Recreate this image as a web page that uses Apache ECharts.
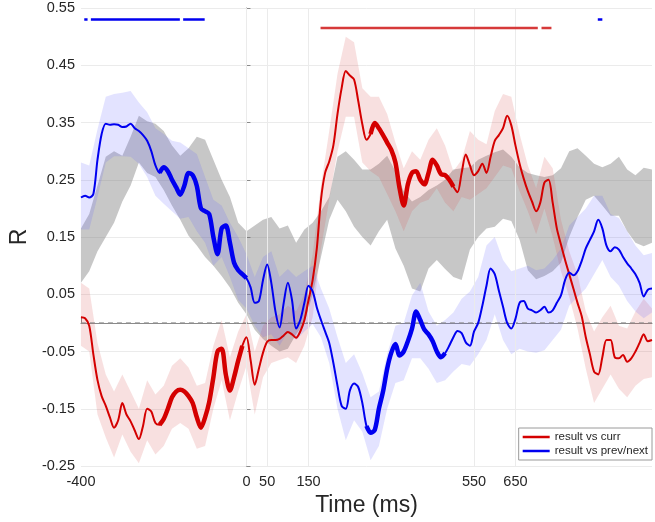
<!DOCTYPE html>
<html>
<head>
<meta charset="utf-8">
<script src="https://cdn.jsdelivr.net/npm/echarts@6/dist/echarts.min.js"></script>
<style>
  html, body { margin: 0; padding: 0; background: #fff; }
  #chart { width: 655px; height: 522px; }
</style>
</head>
<body>
<div id="chart"></div>
<script>
// sample times (ms): lines every 10 ms, bands every 20 ms
const tLine = [];
for (let t = -400; t <= 980; t += 10) tLine.push(t);
const tBand = [];
for (let t = -400; t <= 980; t += 20) tBand.push(t);

const xTicks = [-400, 0, 50, 150, 550, 650];
const xGrid = [0, 50, 150, 550, 650];

// mean correlation, result vs curr
const redMean = [
  0.010, 0.008, -0.005, -0.055, -0.100, -0.128, -0.145, -0.165, -0.183, -0.170,
  -0.140, -0.160, -0.172, -0.188, -0.203, -0.180, -0.150, -0.155, -0.175, -0.178,
  -0.168, -0.150, -0.130, -0.120, -0.117, -0.120, -0.128, -0.140, -0.165, -0.183,
  -0.165, -0.138, -0.095, -0.050, -0.045, -0.090, -0.118, -0.095, -0.066, -0.040,
  -0.025, -0.065, -0.108, -0.080, -0.052, -0.033, -0.030, -0.030, -0.028, -0.022,
  -0.016, -0.020, -0.026, -0.015, 0.005, 0.040, 0.075, 0.130, 0.215, 0.262,
  0.282, 0.310, 0.365, 0.410, 0.440, 0.432, 0.425, 0.388, 0.347, 0.320,
  0.330, 0.349, 0.340, 0.328, 0.315, 0.302, 0.280, 0.235, 0.205, 0.242,
  0.262, 0.265, 0.250, 0.242, 0.262, 0.285, 0.275, 0.260, 0.258, 0.250,
  0.238, 0.228, 0.262, 0.294, 0.275, 0.258, 0.265, 0.278, 0.262, 0.290,
  0.318, 0.328, 0.340, 0.362, 0.345, 0.310, 0.278, 0.252, 0.230, 0.212,
  0.195, 0.210, 0.245, 0.250, 0.210, 0.165, 0.137, 0.110, 0.085, 0.060,
  0.035, 0.012, -0.025, -0.055, -0.085, -0.090, -0.060, -0.030, -0.030, -0.060,
  -0.062, -0.056, -0.068, -0.062, -0.050, -0.035, -0.020, -0.032, -0.030
];

// mean correlation, result vs prev/next
const blueMean = [
  0.219, 0.222, 0.219, 0.225, 0.285, 0.330, 0.348, 0.346, 0.347, 0.346,
  0.342, 0.343, 0.348, 0.340, 0.335, 0.328, 0.318, 0.300, 0.275, 0.262,
  0.272, 0.265, 0.250, 0.237, 0.224, 0.240, 0.262, 0.258, 0.239, 0.200,
  0.195, 0.190, 0.150, 0.120, 0.165, 0.170, 0.140, 0.105, 0.092, 0.085,
  0.078, 0.062, 0.035, 0.038, 0.075, 0.102, 0.070, 0.020, -0.008, 0.035,
  0.070, 0.040, -0.010, 0.005, 0.035, 0.065, 0.055, 0.027, 0.005, -0.015,
  -0.035, -0.070, -0.110, -0.145, -0.150, -0.118, -0.106, -0.112, -0.140, -0.180,
  -0.192, -0.187, -0.150, -0.120, -0.080, -0.052, -0.037, -0.057, -0.050, -0.032,
  -0.010, 0.020, 0.005, -0.012, -0.020, -0.032, -0.050, -0.060, -0.053, -0.040,
  -0.025, -0.014, -0.018, -0.034, -0.040, -0.015, 0.000, 0.030, 0.065, 0.095,
  0.085, 0.056, 0.028, 0.000, -0.010, 0.007, 0.035, 0.038, 0.025, 0.022,
  0.018, 0.022, 0.028, 0.018, 0.022, 0.035, 0.048, 0.075, 0.088, 0.083,
  0.090, 0.108, 0.130, 0.145, 0.160, 0.180, 0.165, 0.135, 0.125, 0.132,
  0.128, 0.115, 0.104, 0.095, 0.085, 0.070, 0.046, 0.058, 0.060
];

// confidence bands (every 20 ms)
const redHi = [
  0.070, 0.060, -0.035, -0.090, -0.120, -0.090, -0.120, -0.150, -0.100, -0.125,
  -0.110, -0.075, -0.062, -0.078, -0.110, -0.105, -0.040, 0.005, -0.060, -0.015,
  0.015, -0.050, -0.005, 0.010, 0.015, 0.030, 0.020, 0.050, 0.120, 0.240,
  0.335, 0.435, 0.500, 0.490, 0.410, 0.395, 0.395, 0.365, 0.315, 0.270,
  0.300, 0.285, 0.320, 0.340, 0.310, 0.265, 0.285, 0.335, 0.320, 0.312,
  0.370, 0.400, 0.395, 0.330, 0.275, 0.235, 0.290, 0.270, 0.180, 0.125,
  0.085, 0.020, -0.015, 0.010, 0.030, -0.005, -0.010, 0.020, 0.042, 0.025
];
const redLo = [
  -0.040, -0.050, -0.160, -0.200, -0.235, -0.195, -0.225, -0.245, -0.205, -0.230,
  -0.215, -0.185, -0.175, -0.185, -0.220, -0.215, -0.150, -0.100, -0.170, -0.120,
  -0.075, -0.160, -0.095, -0.070, -0.065, -0.060, -0.070, -0.040, 0.010, 0.130,
  0.215, 0.300, 0.360, 0.360, 0.280, 0.265, 0.255, 0.225, 0.195, 0.160,
  0.195, 0.210, 0.215, 0.235, 0.210, 0.195, 0.220, 0.215, 0.225, 0.235,
  0.255, 0.275, 0.270, 0.230, 0.195, 0.155, 0.200, 0.150, 0.090, 0.045,
  -0.010, -0.080, -0.140, -0.115, -0.090, -0.115, -0.130, -0.110, -0.098, -0.095
];
const blueHi = [
  0.280, 0.275, 0.338, 0.395, 0.400, 0.402, 0.405, 0.385, 0.368, 0.340,
  0.330, 0.318, 0.315, 0.305, 0.295, 0.255, 0.215, 0.205, 0.175, 0.150,
  0.120, 0.080, 0.115, 0.125, 0.080, 0.094, 0.080, 0.090, 0.100, 0.060,
  0.025, -0.025, -0.070, -0.055, -0.088, -0.130, -0.120, -0.055, -0.005, 0.000,
  0.048, 0.070, 0.020, -0.005, 0.005, 0.018, 0.042, 0.055, 0.080, 0.135,
  0.150, 0.110, 0.090, 0.095, 0.100, 0.092, 0.095, 0.110, 0.130, 0.170,
  0.185, 0.200, 0.222, 0.222, 0.190, 0.183, 0.160, 0.135, 0.118, 0.122
];
const blueLo = [
  0.163, 0.163, 0.220, 0.280, 0.291, 0.291, 0.290, 0.278, 0.255, 0.222,
  0.208, 0.195, 0.182, 0.185, 0.160, 0.140, 0.100, 0.115, 0.080, 0.040,
  0.025, -0.005, -0.025, -0.020, -0.040, -0.015, -0.030, -0.015, -0.002, -0.025,
  -0.070, -0.150, -0.205, -0.170, -0.190, -0.240, -0.215, -0.150, -0.105, -0.100,
  -0.062, -0.062, -0.080, -0.105, -0.100, -0.085, -0.072, -0.075, -0.055, -0.030,
  0.015, -0.030, -0.055, -0.045, -0.050, -0.052, -0.048, -0.030, -0.012, 0.030,
  0.045, 0.060, 0.085, 0.110, 0.080, 0.065, 0.038, 0.020, 0.008, 0.018
];
// null distribution band
const grayHi = [
  0.165, 0.190, 0.240, 0.290, 0.300, 0.292, 0.325, 0.362, 0.352, 0.348,
  0.335, 0.310, 0.292, 0.305, 0.325, 0.320, 0.285, 0.250, 0.220, 0.175,
  0.160, 0.170, 0.180, 0.185, 0.165, 0.170, 0.140, 0.163, 0.175, 0.195,
  0.220, 0.290, 0.300, 0.285, 0.268, 0.268, 0.278, 0.292, 0.265, 0.230,
  0.212, 0.220, 0.232, 0.240, 0.250, 0.268, 0.270, 0.272, 0.285, 0.292,
  0.298, 0.303, 0.290, 0.272, 0.262, 0.258, 0.255, 0.258, 0.270, 0.300,
  0.305, 0.292, 0.278, 0.272, 0.278, 0.290, 0.268, 0.258, 0.271, 0.268
];
const grayLo = [
  0.070, 0.090, 0.125, 0.150, 0.175, 0.212, 0.240, 0.280, 0.262, 0.255,
  0.232, 0.205, 0.180, 0.152, 0.135, 0.115, 0.100, 0.082, 0.062, 0.035,
  0.015, -0.012, -0.028, -0.040, -0.050, -0.045, -0.020, 0.000, 0.050, 0.115,
  0.180, 0.215, 0.195, 0.168, 0.150, 0.135, 0.160, 0.180, 0.130, 0.100,
  0.060, 0.055, 0.095, 0.110, 0.094, 0.080, 0.075, 0.128, 0.150, 0.165,
  0.168, 0.182, 0.178, 0.145, 0.092, 0.076, 0.082, 0.090, 0.105, 0.150,
  0.185, 0.215, 0.222, 0.205, 0.187, 0.187, 0.160, 0.140, 0.134, 0.140
];

// stretches drawn with a heavier line
const redThick = [[-210, -10], [300, 500]];
const blueThick = [[-210, 0], [290, 480]];

// significance bars at the top (ms ranges)
const redSig = [[179, 704], [713, 737]];
const blueSig = [[-392, -384], [-376, -161], [-153, -101], [849, 860]];
const redSigY = 0.515;
const blueSigY = 0.53;

// dashed reference line at R = 0
const zeroLine = [[-400, 0], [980, 0]];

const RED = '#d40000';
const BLUE = '#0000f0';

function pairs(ts, vs) {
  return ts.map((t, i) => [t, vs[i]]);
}
function thickPart(ts, vs, ranges) {
  return ts.map((t, i) => [t, ranges.some(r => t >= r[0] && t <= r[1]) ? vs[i] : null]);
}
function sigBars(ranges, y) {
  const d = [];
  ranges.forEach(r => { d.push([r[0], y], [r[1], y], [r[1], null]); });
  return d;
}
function band(name, lo, hi, color, z) {
  return {
    type: 'custom',
    name: name,
    silent: true,
    z: z,
    clip: true,
    data: [[tBand[0], lo[0]]],
    renderItem: function (params, api) {
      const pts = [];
      for (let i = 0; i < tBand.length; i++) pts.push(api.coord([tBand[i], hi[i]]));
      for (let i = tBand.length - 1; i >= 0; i--) pts.push(api.coord([tBand[i], lo[i]]));
      return {
        type: 'polygon',
        shape: { points: pts },
        style: { fill: color }
      };
    }
  };
}

const chart = echarts.init(document.getElementById('chart'));
chart.setOption({
  animation: false,
  textStyle: { fontFamily: 'Liberation Sans, Arial, sans-serif' },
  grid: { left: 78, right: 3, top: 8, bottom: 55 },
  legend: {
    data: ['result vs curr', 'result vs prev/next'],
    orient: 'vertical',
    right: 3,
    bottom: 62,
    icon: 'rect',
    itemWidth: 27,
    itemHeight: 2.5,
    itemGap: 2,
    padding: [3, 4, 3, 4],
    backgroundColor: '#fff',
    borderColor: '#9a9a9a',
    borderWidth: 1,
    textStyle: { fontSize: 11.5, color: '#262626' }
  },
  xAxis: {
    type: 'value',
    min: -400,
    max: 980,
    name: 'Time (ms)',
    nameLocation: 'middle',
    nameGap: 28,
    nameTextStyle: { fontSize: 23, color: '#262626' },
    axisLine: { lineStyle: { color: '#8a8a8a' } },
    axisTick: { inside: true, length: 6, customValues: xTicks, lineStyle: { color: '#8a8a8a' } },
    axisLabel: { customValues: xTicks, fontSize: 14.5, color: '#262626', margin: 8 },
    splitLine: { show: false }
  },
  yAxis: {
    type: 'value',
    min: -0.25,
    max: 0.55,
    interval: 0.1,
    name: 'R',
    nameLocation: 'middle',
    nameGap: 46,
    nameTextStyle: { fontSize: 23, color: '#262626' },
    axisLine: { show: true, lineStyle: { color: '#8a8a8a' } },
    axisTick: { show: true, inside: true, length: 4, lineStyle: { color: '#8a8a8a' } },
    axisLabel: { fontSize: 14.5, color: '#262626', margin: 6, formatter: v => v.toFixed(2) },
    splitLine: { lineStyle: { color: '#ebebeb' } }
  },
  series: [
    {
      type: 'line',
      name: 'vgrid',
      z: 0,
      silent: true,
      data: [],
      markLine: {
        silent: true,
        symbol: ['none', 'none'],
        label: { show: false },
        lineStyle: { color: '#ebebeb', type: 'solid', width: 1 },
        data: xGrid.map(x => ({ xAxis: x }))
      }
    },
    band('gray', grayLo, grayHi, 'rgba(115,115,115,0.40)', 1),
    band('redBand', redLo, redHi, 'rgba(215,70,70,0.17)', 2),
    band('blueBand', blueLo, blueHi, 'rgba(90,90,255,0.17)', 3),
    {
      type: 'line', name: 'zero', z: 4, silent: true,
      data: zeroLine, showSymbol: false,
      lineStyle: { color: '#8c8c8c', type: [5, 4], width: 1 }
    },
    {
      type: 'line', name: 'result vs curr', z: 5, color: RED,
      data: pairs(tLine, redMean), showSymbol: false, smooth: 0.3,
      lineStyle: { width: 2, color: RED }
    },
    {
      type: 'line', name: 'result vs prev/next', z: 6, color: BLUE,
      data: pairs(tLine, blueMean), showSymbol: false, smooth: 0.3,
      lineStyle: { width: 2, color: BLUE }
    },
    {
      type: 'line', name: 'redThick', z: 5, color: RED,
      data: thickPart(tLine, redMean, redThick), showSymbol: false, smooth: 0.3,
      connectNulls: false, lineStyle: { width: 4.5, color: RED }
    },
    {
      type: 'line', name: 'blueThick', z: 6, color: BLUE,
      data: thickPart(tLine, blueMean, blueThick), showSymbol: false, smooth: 0.3,
      connectNulls: false, lineStyle: { width: 4.5, color: BLUE }
    },
    {
      type: 'line', name: 'redSig', z: 7, color: '#d63a3a',
      data: sigBars(redSig, redSigY), showSymbol: false,
      connectNulls: false, lineStyle: { width: 2.5, color: '#d63a3a' }
    },
    {
      type: 'line', name: 'blueSig', z: 7, color: BLUE,
      data: sigBars(blueSig, blueSigY), showSymbol: false,
      connectNulls: false, lineStyle: { width: 2.5, color: BLUE }
    }
  ]
});
</script>
</body>
</html>
